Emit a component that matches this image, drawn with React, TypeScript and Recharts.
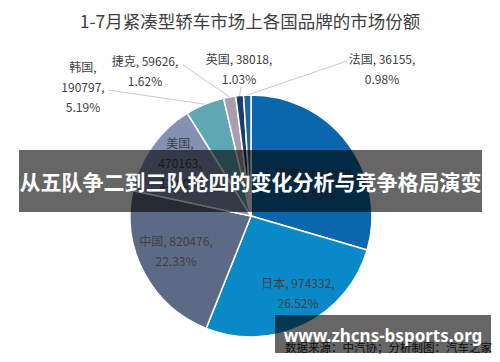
import React from 'react';
import { PieChart, Pie, Cell } from 'recharts';

const categories = ['德国', '日本', '中国', '美国', '韩国', '捷克', '英国', '法国'];
const sales = [1084979, 974332, 820476, 470163, 190797, 59626, 38018, 36155];
const colors = ['#0A66AD', '#0A89C9', '#5D6A85', '#8491B3', '#5EA8B3', '#A89EAD', '#163E66', '#1F6790'];

const titleText = '1-7月紧凑型轿车市场上各国品牌的市场份额';
const bannerText = '从五队争二到三队抢四的变化分析与竞争格局演变';
const watermarkText = 'www.zhcns-bsports.org';
const sourceText = '数据来源：中汽协；分析制图：汽车之家';

const total = sales.reduce((a, b) => a + b, 0);
const data = categories.map((name, i) => ({ name, value: sales[i] }));

// label layout: text block centre offset from pie centre, line grouping, optional leader end
type Layout = { dx: number; dy: number; split: number; line?: [number, number] };
const labelLayout: Layout[] = [
  { dx: 64, dy: -33, split: 2 },
  { dx: 47, dy: 76, split: 2 },
  { dx: -75, dy: 34, split: 2 },
  { dx: -71, dy: -54, split: 3 },
  { dx: -168, dy: -130, split: 3, line: [-143, -126] },
  { dx: -106, dy: -146, split: 2, line: [-68, -151] },
  { dx: -12, dy: -148, split: 2, line: [-10, -129] },
  { dx: 131, dy: -148, split: 2, line: [96, -155] },
];

const RAD = Math.PI / 180;

function renderLabel(props: any) {
  const { cx, cy, midAngle, outerRadius, index } = props;
  const lay = labelLayout[index];
  const name = categories[index];
  const val = String(sales[index]);
  const pct = ((sales[index] / total) * 100).toFixed(2) + '%';
  const lines = lay.split === 3 ? [name + ',', val + ',', pct] : [name + ', ' + val + ',', pct];
  const lh = 20;
  const x = cx + lay.dx;
  const y0 = cy + lay.dy - ((lines.length - 1) * lh) / 2;
  let leader = null;
  if (lay.line) {
    const ex = cx + outerRadius * Math.cos(-midAngle * RAD);
    const ey = cy + outerRadius * Math.sin(-midAngle * RAD);
    leader = (
      <line x1={ex} y1={ey} x2={cx + lay.line[0]} y2={cy + lay.line[1]} stroke="#C8C8C8" strokeWidth={1} />
    );
  }
  return (
    <g key={'lbl' + index}>
      {leader}
      {lines.map((t, i) => (
        <text
          key={i}
          x={x}
          y={y0 + i * lh}
          textAnchor="middle"
          dominantBaseline="central"
          fontSize={12}
          fill="#404040"
          fontFamily="'Noto Sans CJK SC', 'Noto Sans', sans-serif"
        >
          {t}
        </text>
      ))}
    </g>
  );
}

export default function App() {
  return (
    <div style={{ position: 'absolute', left: 0, top: 0, width: 500, height: 362, background: '#fff', overflow: 'hidden' }}>
      <div
        style={{
          position: 'absolute', left: 0, top: 8, width: 500, textAlign: 'center',
          fontSize: 17.5, lineHeight: '26px', color: '#404040',
          fontFamily: "'Noto Sans CJK SC', sans-serif",
        }}
      >
        {titleText}
      </div>
      <div style={{ position: 'absolute', left: 0, top: 0 }}>
        <PieChart width={500} height={362}>
          <Pie
            data={data}
            dataKey="value"
            nameKey="name"
            cx={246}
            cy={211}
            outerRadius={121}
            startAngle={90}
            endAngle={-270}
            stroke="#ffffff"
            strokeWidth={1.5}
            label={renderLabel}
            labelLine={false}
            isAnimationActive={false}
          >
            {data.map((d, i) => (
              <Cell key={d.name} fill={colors[i]} />
            ))}
          </Pie>
        </PieChart>
      </div>
      <div
        style={{
          position: 'absolute', left: 19, top: 150, width: 463, height: 62,
          background: 'rgba(0,0,0,0.6)', color: '#fff', fontWeight: 700,
          fontSize: 21, lineHeight: '62px', textAlign: 'center', whiteSpace: 'nowrap',
          fontFamily: "'Noto Sans CJK SC', sans-serif",
        }}
      >
        {bannerText}
      </div>
      <div
        style={{
          position: 'absolute', left: 285, top: 339, fontSize: 11.5, lineHeight: '16px',
          color: '#222', whiteSpace: 'nowrap', fontFamily: "'Noto Sans CJK SC', sans-serif",
        }}
      >
        {sourceText}
      </div>
      <div
        style={{
          position: 'absolute', left: 275, top: 315, width: 216, height: 38,
          background: 'rgba(0,0,0,0.6)',
        }}
      />
      <div
        style={{
          position: 'absolute', left: 275, top: 323, width: 216, textAlign: 'center',
          color: '#fff', fontWeight: 700, fontSize: 17, lineHeight: '26px',
          fontFamily: "'Noto Sans', sans-serif", whiteSpace: 'nowrap',
        }}
      >
        {watermarkText}
      </div>
    </div>
  );
}
